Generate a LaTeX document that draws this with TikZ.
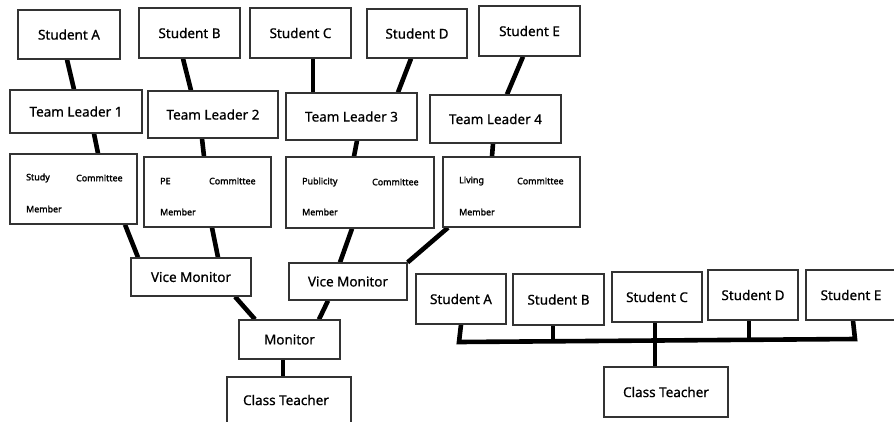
\documentclass[tikz,border=0pt]{standalone}
\usepackage{fontspec}
\setmainfont{Noto Sans}
\newfontface\medf{Noto Sans}[FakeBold=0.6]
\newfontface\boldf{Noto Sans}[FakeBold=1.8]
\usetikzlibrary{backgrounds}
\tikzset{
  box/.style={draw=black!80, line width=1.3pt, fill=white, inner sep=0pt, font=\fontsize{13.5}{15}\selectfont\medf},
  conn/.style={line width=4.6pt, black},
  small/.style={inner sep=0pt, anchor=west, font=\boldf\fontsize{8.9}{10}\selectfont}
}
\begin{document}
\begin{tikzpicture}[x=1pt,y=-1pt]
\useasboundingbox (0,0) rectangle (894,421);
\clip (0,0) rectangle (894,421);
% top students
\node[box, minimum width=102pt, minimum height=49pt] (sA) at (69,34.5) {Student A};
\node[box, minimum width=101pt, minimum height=50pt] (sB) at (189.5,33) {Student B};
\node[box, minimum width=101pt, minimum height=50pt] (sC) at (300.5,33) {Student C};
\node[box, minimum width=100pt, minimum height=49pt] (sD) at (417,33.5) {Student D};
\node[box, minimum width=101pt, minimum height=50pt] (sE) at (529.5,31) {Student E};
% team leaders
\node[box, minimum width=132pt, minimum height=43pt] (tl1) at (76,111.5) {Team Leader 1};
\node[box, minimum width=130pt, minimum height=47pt] (tl2) at (213,114.5) {Team Leader 2};
\node[box, minimum width=131pt, minimum height=47pt] (tl3) at (351.5,116.5) {Team Leader 3};
\node[box, minimum width=131pt, minimum height=48pt] (tl4) at (495.5,119) {Team Leader 4};
% committee members
\node[box, minimum width=127pt, minimum height=70pt] (cm1) at (73.5,189) {};
\node[box, minimum width=127pt, minimum height=70pt] (cm2) at (207.5,192) {};
\node[box, minimum width=148pt, minimum height=71pt] (cm3) at (360,192.5) {};
\node[box, minimum width=137pt, minimum height=70pt] (cm4) at (511.5,192) {};
\node[small] (cm1a) at (26,178) {Study};
\node[small] (cm1b) at (76,178) {Committee};
\node[small] (cm1c) at (26,209) {Member};
\node[small] (cm2a) at (160,181) {PE};
\node[small] (cm2b) at (209,181) {Committee};
\node[small] (cm2c) at (160,212) {Member};
\node[small] (cm3a) at (302,182) {Publicity};
\node[small] (cm3b) at (372,182) {Committee};
\node[small] (cm3c) at (302,212) {Member};
\node[small] (cm4a) at (459,181) {Living};
\node[small] (cm4b) at (517,181) {Committee};
\node[small] (cm4c) at (459,212) {Member};
% vice monitors, monitor, teacher
\node[box, minimum width=120pt, minimum height=38pt] (vm1) at (191,277) {Vice Monitor};
\node[box, minimum width=118pt, minimum height=37pt] (vm2) at (348,281.5) {Vice Monitor};
\node[box, minimum width=101pt, minimum height=39pt] (mon) at (289.5,339.5) {Monitor};
\node[box, minimum width=124pt, minimum height=50pt] (ct1) at (289,402) {};
\node[inner sep=0pt, font=\fontsize{13.5}{15}\selectfont\medf] (ct1t) at (286,400) {Class Teacher};
% right part
\node[box, minimum width=90pt, minimum height=50pt] (rA) at (461,299) {Student A};
\node[box, minimum width=91pt, minimum height=51pt] (rB) at (558.5,299.5) {Student B};
\node[box, minimum width=90pt, minimum height=50pt] (rC) at (657,297) {Student C};
\node[box, minimum width=90pt, minimum height=50pt] (rD) at (753,295) {Student D};
\node[box, minimum width=90pt, minimum height=50pt] (rE) at (851,295) {Student E};
\node[box, minimum width=124pt, minimum height=50pt] (rct) at (666,392) {Class Teacher};
\coordinate (busL) at (459,342);
\coordinate (busR) at (855,339);
\begin{scope}[on background layer]
\draw[conn] ([xshift=-2pt]sA.south) -- ([xshift=-2pt]tl1.north);
\draw[conn] ([xshift=-6.5pt]sB.south) -- ([xshift=-22pt]tl2.north);
\draw[conn] ([xshift=12.5pt]sC.south) -- ([xshift=-38.5pt]tl3.north);
\draw[conn] ([xshift=-6pt]sD.south) -- ([xshift=46.5pt]tl3.north);
\draw[conn] ([xshift=-6.5pt]sE.south) -- ([xshift=11.5pt]tl4.north);
\draw[conn] ([xshift=18pt]tl1.south) -- ([xshift=24.5pt]cm1.north);
\draw[conn] ([xshift=-11pt]tl2.south) -- ([xshift=-3.5pt]cm2.north);
\draw[conn] ([xshift=5.5pt]tl3.south) -- ([xshift=-6pt]cm3.north);
\draw[conn] ([xshift=-2.5pt]tl4.south) -- ([xshift=-19.5pt]cm4.north);
\draw[conn] ([xshift=51.5pt]cm1.south) -- ([xshift=-53pt]vm1.north);
\draw[conn] ([xshift=4.5pt]cm2.south) -- ([xshift=27pt]vm1.north);
\draw[conn] ([xshift=-8pt]cm3.south) -- ([xshift=-8pt]vm2.north);
\draw[conn] ([xshift=-63.5pt]cm4.south) -- (vm2.north east);
\draw[conn] ([xshift=44pt]vm1.south) -- ([xshift=-34.5pt]mon.north);
\draw[conn] ([xshift=-20pt]vm2.south) -- ([xshift=29.5pt]mon.north);
\draw[conn] ([xshift=-6.5pt]mon.south) -- ([xshift=-6pt]ct1.north);
% bus
\draw[conn, line join=miter] (rA.south) -- (busL) -- (busR) -- ([xshift=2pt]rE.south);
\draw[conn] ([xshift=-5.5pt]rB.south) -- ++(0,16.5);
\draw[conn] ([xshift=-2pt]rC.south) -- ([xshift=-11pt]rct.north);
\draw[conn] ([xshift=-4pt]rD.south) -- ++(0,20.5);
\end{scope}
\end{tikzpicture}
\end{document}
